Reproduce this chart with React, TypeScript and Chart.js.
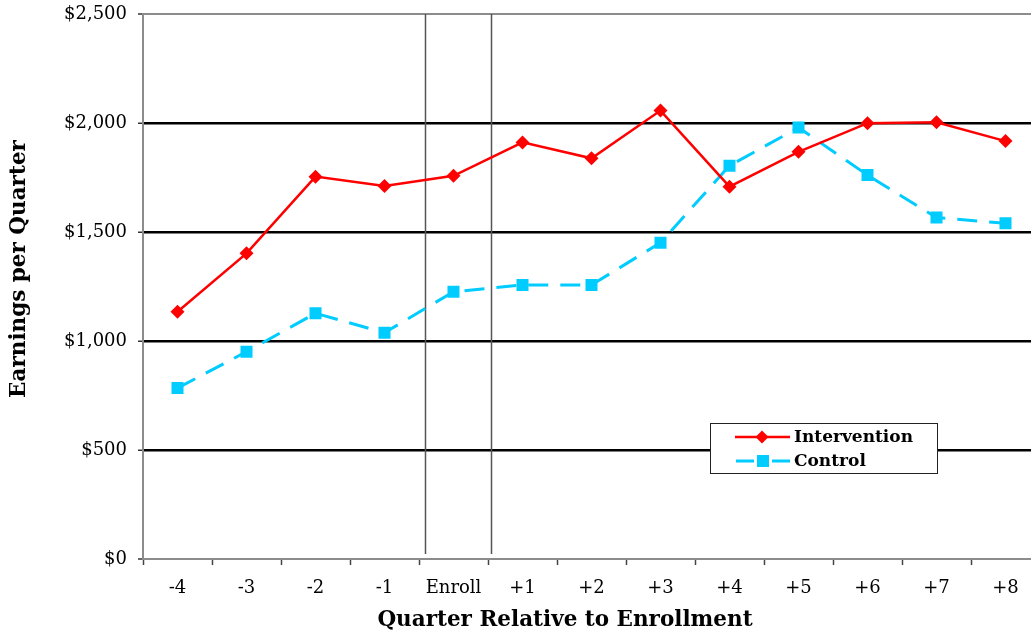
import React, { useEffect, useRef } from "react";
import { Chart, registerables } from "chart.js";

Chart.register(...registerables);

const quarters = ["-4", "-3", "-2", "-1", "Enroll", "+1", "+2", "+3", "+4", "+5", "+6", "+7", "+8"];
const interventionValues = [1134, 1402, 1754, 1711, 1758, 1911, 1838, 2057, 1708, 1868, 1999, 2003, 1917];
const controlValues = [784, 951, 1127, 1038, 1226, 1257, 1257, 1451, 1804, 1979, 1761, 1566, 1540];
const seriesNames = ["Intervention", "Control"];
const yTitle = "Earnings per Quarter";
const xTitle = "Quarter Relative to Enrollment";
const dividerIndices = [3.58, 4.54];

const FONT = "'DejaVu Serif', serif";
const RED = "#ff0000";
const CYAN = "#00ccff";
const CANVAS_W = 1040;

const overlayPlugin = {
  id: "overlay",
  beforeDatasetsDraw(chart: any) {
    const { ctx, chartArea, scales } = chart;
    ctx.save();
    ctx.strokeStyle = "#555";
    ctx.lineWidth = 1.5;
    dividerIndices.forEach((v) => {
      const x = Math.round(scales.x.getPixelForValue(v)) + 0.5;
      ctx.beginPath();
      ctx.moveTo(x, chartArea.top);
      ctx.lineTo(x, chartArea.bottom - 5);
      ctx.stroke();
    });
    ctx.restore();
  },
  afterDraw(chart: any) {
    const { ctx } = chart;
    ctx.save();
    // axis titles
    ctx.fillStyle = "#000";
    ctx.font = `bold 21.5px ${FONT}`;
    ctx.textAlign = "center";
    ctx.textBaseline = "middle";
    ctx.fillText(xTitle, 565, 620);
    ctx.save();
    ctx.translate(19, 269);
    ctx.rotate(-Math.PI / 2);
    ctx.fillText(yTitle, 0, 0);
    ctx.restore();

    // legend
    const lx = 710, ly = 423, lw = 227, lh = 50;
    ctx.fillStyle = "#fff";
    ctx.fillRect(lx, ly, lw, lh);
    ctx.strokeStyle = "#222";
    ctx.lineWidth = 1;
    ctx.strokeRect(lx + 0.5, ly + 0.5, lw, lh);

    // intervention row
    const r1 = 437;
    ctx.strokeStyle = RED;
    ctx.lineWidth = 2.5;
    ctx.beginPath();
    ctx.moveTo(735, r1);
    ctx.lineTo(790, r1);
    ctx.stroke();
    ctx.fillStyle = RED;
    ctx.beginPath();
    ctx.moveTo(762 - 6.5, r1);
    ctx.lineTo(762, r1 - 6.5);
    ctx.lineTo(762 + 6.5, r1);
    ctx.lineTo(762, r1 + 6.5);
    ctx.closePath();
    ctx.fill();

    // control row
    const r2 = 461;
    ctx.strokeStyle = CYAN;
    ctx.lineWidth = 3;
    ctx.beginPath();
    ctx.moveTo(736, r2);
    ctx.lineTo(754, r2);
    ctx.moveTo(772, r2);
    ctx.lineTo(790, r2);
    ctx.stroke();
    ctx.fillStyle = CYAN;
    ctx.fillRect(757, r2 - 6, 12, 12);

    ctx.fillStyle = "#000";
    ctx.font = `bold 17px ${FONT}`;
    ctx.textAlign = "left";
    ctx.fillText(seriesNames[0], 794, r1 + 1);
    ctx.fillText(seriesNames[1], 794, r2 + 1);
    ctx.restore();
  },
};

export default function App() {
  const canvasRef = useRef<HTMLCanvasElement | null>(null);

  useEffect(() => {
    if (!canvasRef.current) return;
    const chart = new Chart(canvasRef.current, {
      type: "line",
      data: {
        labels: quarters,
        datasets: [
          {
            label: seriesNames[0],
            data: interventionValues,
            borderColor: RED,
            backgroundColor: RED,
            borderWidth: 2.5,
            pointStyle: "rectRot",
            pointRadius: 7,
            pointBorderWidth: 0,
            pointBackgroundColor: RED,
            tension: 0,
          },
          {
            label: seriesNames[1],
            data: controlValues,
            borderColor: CYAN,
            backgroundColor: CYAN,
            borderWidth: 3,
            borderDash: [20, 12],
            pointStyle: "rect",
            pointRadius: 8.5,
            pointBorderWidth: 0,
            pointBackgroundColor: CYAN,
            tension: 0,
          },
        ],
      },
      options: {
        responsive: false,
        animation: false,
        devicePixelRatio: 1,
        layout: { autoPadding: false, padding: { top: 14, right: 0, bottom: 0, left: 0 } },
        plugins: {
          legend: { display: false },
          tooltip: { enabled: false },
        },
        scales: {
          x: {
            offset: true,
            grid: {
              display: true,
              offset: true,
              drawOnChartArea: false,
              drawTicks: true,
              tickLength: 6,
              tickColor: "#444",
              tickWidth: 1.5,
            },
            border: { display: true, color: "#8c8c8c", width: 2 },
            ticks: {
              color: "#000",
              font: { family: FONT, size: 18 },
              padding: 13,
              maxRotation: 0,
              autoSkip: false,
            },
            afterFit(scale: any) {
              scale.height = 75;
              scale.paddingLeft = 0;
              scale.paddingRight = 0;
            },
          },
          y: {
            min: 0,
            max: 2500,
            ticks: {
              stepSize: 500,
              color: "#000",
              font: { family: FONT, size: 18 },
              padding: 11,
              callback: (v: any) => "$" + Number(v).toLocaleString("en-US"),
            },
            grid: {
              color: (c: any) =>
                c.tick && (c.tick.value === 0 || c.tick.value === 2500) ? "#8c8c8c" : "#000",
              lineWidth: (c: any) =>
                c.tick && (c.tick.value === 0 || c.tick.value === 2500) ? 2 : 2.5,
              drawTicks: true,
              tickLength: 5,
              tickColor: "#333",
              tickWidth: 1.5,
            },
            border: { display: true, color: "#8c8c8c", width: 2 },
            afterFit(scale: any) {
              scale.width = 143;
              scale.paddingTop = 0;
              scale.paddingBottom = 0;
            },
          },
        },
      },
      plugins: [overlayPlugin],
    });
    return () => chart.destroy();
  }, []);

  return (
    <div
      style={{
        position: "fixed",
        left: 0,
        top: 0,
        width: 1031,
        height: 634,
        overflow: "hidden",
        background: "#fff",
      }}
    >
      <div style={{ width: CANVAS_W, minWidth: CANVAS_W, height: 634, position: "relative" }}>
        <canvas
          ref={canvasRef}
          width={CANVAS_W}
          height={634}
          style={{ display: "block", width: CANVAS_W, height: 634, maxWidth: "none" }}
        />
      </div>
    </div>
  );
}
